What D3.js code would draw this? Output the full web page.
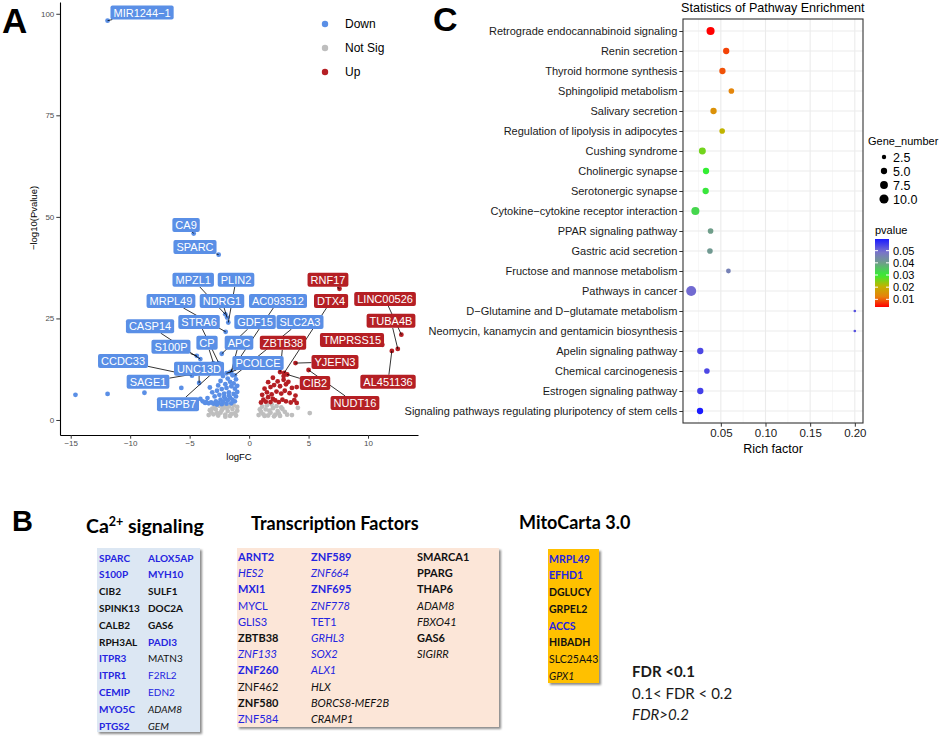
<!DOCTYPE html>
<html lang="en">
<head>
<meta charset="UTF-8">
<title>Volcano, pathway enrichment and gene tables</title>
<script src="https://cdn.jsdelivr.net/npm/d3@7/dist/d3.min.js"></script>
<style>
  body { margin: 0; background: #fff; }
  svg text { font-family: "Liberation Sans", Arial, sans-serif; }
  svg .office text { font-family: Lato, "Open Sans", sans-serif; }
</style>
</head>
<body>
<div id="figura"></div>
<script>
// ---------------- A: volcano ----------------
const volcanoGroups = ['Down', 'Not Sig', 'Up']
const volcanoXTicks = [-15, -10, -5, 0, 5, 10]
const volcanoYTicks = [0, 25, 50, 75, 100]

// [logFC, -log10(p)]
const downPts = [[-14.6,6.2],[-11.9,6.4],[-8.8,6.7],[-5.7,7.9],[-4.1,5.2],[-3.9,4.6],[-3.7,4.2],[-3.6,4.4],[-3.5,5.4],[-3.4,4.1],[-3.3,8.0],[-3.2,4.3],[-3.1,6.8],[-3.0,4.0],[-2.9,5.8],[-2.8,4.6],[-2.7,7.2],[-2.7,3.8],[-2.6,4.2],[-2.6,8.5],[-2.5,6.2],[-2.4,5.0],[-2.4,9.6],[-2.3,7.6],[-2.3,3.9],[-2.2,4.5],[-2.2,10.8],[-2.1,6.5],[-2.1,5.7],[-2.0,5.2],[-2.0,8.8],[-1.9,7.9],[-1.9,4.0],[-1.8,4.8],[-1.8,10.2],[-1.7,6.8],[-1.7,6.0],[-1.6,5.5],[-1.6,9.4],[-1.5,8.3],[-1.5,4.1],[-1.4,5.0],[-1.4,11.0],[-1.3,6.4],[-1.3,9.0],[-1.2,4.6],[-1.2,7.7],[-1.1,5.8],[-1.1,10.0],[-1.0,6.9],[-1.0,8.4]]
const notSigPts = [[-3.4,1.2],[-3.3,2.4],[-3.2,2.0],[-3.1,2.8],[-3.0,1.4],[-2.9,3.2],[-2.8,2.6],[-2.7,1.7],[-2.6,1.1],[-2.5,3.5],[-2.4,1.8],[-2.3,2.4],[-2.2,2.9],[-2.1,3.8],[-2.0,1.3],[-2.0,0.8],[-1.9,3.0],[-1.8,2.2],[-1.7,3.3],[-1.6,1.0],[-1.5,1.5],[-1.4,2.7],[-1.3,3.6],[-1.2,1.6],[-1.1,1.1],[-1.0,2.3],[-1.0,3.2],[0.8,1.2],[0.9,2.6],[1.0,2.0],[1.1,3.3],[1.2,1.4],[1.3,1.0],[1.4,2.6],[1.5,3.6],[1.6,1.1],[1.7,2.3],[1.8,1.8],[1.9,3.8],[2.0,2.9],[2.1,0.9],[2.2,1.3],[2.3,3.4],[2.4,2.2],[2.5,1.6],[2.6,1.0],[2.7,3.1],[2.8,2.7],[3.0,2.0],[3.2,1.3],[3.6,1.2],[4.1,3.0],[5.1,1.7]]
const upPts = [[1.0,4.3],[1.1,6.2],[1.2,5.0],[1.3,7.7],[1.4,4.5],[1.5,6.8],[1.6,5.6],[1.6,9.3],[1.8,4.4],[1.8,8.1],[1.9,6.3],[2.0,5.2],[2.0,10.4],[2.1,8.6],[2.2,4.8],[2.3,7.0],[2.4,9.5],[2.5,4.4],[2.6,8.3],[2.7,6.5],[2.8,5.0],[2.9,9.9],[2.9,10.8],[3.0,7.2],[3.1,4.6],[3.1,8.8],[3.3,9.4],[3.4,6.6],[3.5,4.3],[3.6,7.9],[3.8,4.9],[3.9,6.0],[4.0,4.2],[4.0,8.1]]

// labelled genes
const labelGenes = ['MIR1244−1','CA9','SPARC','MPZL1','PLIN2','MRPL49','NDRG1','AC093512','CASP14','STRA6','GDF15','SLC2A3','S100P','CP','APC','CCDC33','UNC13D','PCOLCE','SAGE1','HSPB7','ZBTB38','RNF17','DTX4','LINC00526','TUBA4B','TMPRSS15','YJEFN3','CIB2','AL451136','NUDT16']
const labelGroup = ['Down','Down','Down','Down','Down','Down','Down','Down','Down','Down','Down','Down','Down','Down','Down','Down','Down','Down','Down','Down','Up','Up','Up','Up','Up','Up','Up','Up','Up','Up']
const labelFC = [-11.9,-4.66,-2.56,-2.0,-1.75,-1.97,-1.85,-1.6,-4.1,-2.55,-2.3,-1.2,-4.4,-3.0,-1.5,-4.8,-4.2,-1.9,-4.5,-2.9,2.6,7.6,2.95,12.8,12.5,11.2,3.9,3.2,12.0,5.0]
const labelP = [98.3,45.9,40.7,26.0,24.0,21.7,25.2,11.7,15.0,14.0,16.3,11.0,15.8,14.0,11.9,10.9,9.1,11.5,11.4,12.0,11.8,32.3,11.6,21.0,17.5,18.5,14.0,11.2,17.0,12.3]
// where the repelled labels ended up (data units)
const labelAtFC = [-9.0,-5.3,-4.55,-4.7,-1.1,-6.57,-2.28,2.43,-8.33,-4.21,0.5,4.28,-6.57,-3.54,-0.85,-10.6,-4.21,0.75,-8.5,-5.98,2.85,6.63,6.89,11.43,11.93,8.65,7.22,5.54,11.68,8.9]
const labelAtP = [100.3,48.0,42.6,34.5,34.5,29.3,29.3,29.3,23.1,24.1,24.1,24.1,18.0,19.0,19.0,14.5,12.6,14.0,9.4,3.9,19.0,34.5,29.3,29.8,24.4,19.7,14.3,9.1,9.4,4.2]

// ---------------- C: pathway enrichment ----------------
const pathways = ['Retrograde endocannabinoid signaling','Renin secretion','Thyroid hormone synthesis','Sphingolipid metabolism','Salivary secretion','Regulation of lipolysis in adipocytes','Cushing syndrome','Cholinergic synapse','Serotonergic synapse','Cytokine−cytokine receptor interaction','PPAR signaling pathway','Gastric acid secretion','Fructose and mannose metabolism','Pathways in cancer','D−Glutamine and D−glutamate metabolism','Neomycin, kanamycin and gentamicin biosynthesis','Apelin signaling pathway','Chemical carcinogenesis','Estrogen signaling pathway','Signaling pathways regulating pluripotency of stem cells']
const richFactor = [0.0385,0.056,0.0518,0.0618,0.0418,0.0515,0.0293,0.0334,0.033,0.0215,0.0385,0.0378,0.0585,0.0168,0.2,0.2,0.027,0.0344,0.027,0.0267]
const geneNumber = [8,5,5,4,5,4,6,5,5,8,4,4,3,12,1,1,5,4,5,5]
const pvalue = [0.0037,0.008,0.009,0.013,0.015,0.021,0.026,0.030,0.031,0.033,0.040,0.041,0.046,0.050,0.053,0.053,0.054,0.054,0.055,0.0596]
const richTicks = [0.05, 0.10, 0.15, 0.20]
const richMinor = [0.025, 0.075, 0.125, 0.175]
const geneBreaks = [2.5, 5.0, 7.5, 10.0]
const pvalBreaks = [0.01, 0.02, 0.03, 0.04, 0.05]

// ---------------- B: gene tables  [gene, direction, FDR class 1/2/3] ----------------
const caGenes = [['SPARC','down',1],['S100P','down',1],['CIB2','up',1],['SPINK13','up',1],['CALB2','up',1],['RPH3AL','up',1],['ITPR3','down',1],['ITPR1','down',1],['CEMIP','down',1],['MYO5C','down',1],['PTGS2','down',1],
  ['ALOX5AP','down',1],['MYH10','down',1],['SULF1','up',1],['DOC2A','up',1],['GAS6','up',1],['PADI3','down',1],['MATN3','up',2],['F2RL2','down',2],['EDN2','down',2],['ADAM8','up',3],['GEM','up',3]]
const tfGenes = [['ARNT2','down',1],['HES2','down',3],['MXI1','down',1],['MYCL','down',2],['GLIS3','down',2],['ZBTB38','up',1],['ZNF133','down',3],['ZNF260','down',1],['ZNF462','up',2],['ZNF580','up',1],['ZNF584','down',2],
  ['ZNF589','down',1],['ZNF664','down',3],['ZNF695','down',1],['ZNF778','down',3],['TET1','down',2],['GRHL3','down',3],['SOX2','down',3],['ALX1','down',3],['HLX','up',3],['BORCS8-MEF2B','up',3],['CRAMP1','up',3],
  ['SMARCA1','up',1],['PPARG','up',1],['THAP6','up',1],['ADAM8','up',3],['FBXO41','up',3],['GAS6','up',1],['SIGIRR','up',3]]
const mitoGenes = [['MRPL49','down',1],['EFHD1','down',1],['DGLUCY','up',1],['GRPEL2','up',1],['ACCS','down',1],['HIBADH','up',1],['SLC25A43','up',2],['GPX1','up',3]]
const fdrLegend = [['FDR <0.1',1],['0.1< FDR < 0.2',2],['FDR>0.2',3]]

// =====================================================================
const svg = d3.select('#figura').append('svg').attr('width', 941).attr('height', 739)
svg.append('defs').append('filter').attr('id', 'sombra')
  .attr('x', '-10%').attr('y', '-10%').attr('width', '130%').attr('height', '130%')
  .append('feDropShadow').attr('dx', 2).attr('dy', 2).attr('stdDeviation', 1.3)
  .attr('flood-color', '#000').attr('flood-opacity', 0.45)

// panel letters
svg.append('text').text('A').attr('x', 2).attr('y', 33).attr('font-size', 35).attr('font-weight', 'bold')
svg.append('text').text('C').attr('x', 433).attr('y', 31).attr('font-size', 34).attr('font-weight', 'bold')
svg.append('text').text('B').attr('x', 12).attr('y', 531).attr('font-size', 29).attr('font-weight', 'bold')

function styleAxis(ax, size, col) {
  ax.attr('font-family', '"Liberation Sans", Arial, sans-serif')
  ax.select('.domain').attr('stroke', '#000').attr('stroke-width', 1.1)
  ax.selectAll('.tick line').attr('stroke', '#333')
  ax.selectAll('.tick text').attr('fill', col).attr('font-size', size)
}

// ---- A ----
const xV = d3.scaleLinear().domain([-15.9, 14.2]).range([60, 418])
const yV = d3.scaleLinear().domain([-3.7, 102.9]).range([435, 2])
const colV = d3.scaleOrdinal().domain(volcanoGroups).range(['#5a8fe6', '#bebebe', '#b51f24'])
const gA = svg.append('g')

const xAxA = gA.append('g').attr('transform', 'translate(0,435)')
  .call(d3.axisBottom(xV).tickValues(volcanoXTicks).tickSize(3.7).tickSizeOuter(0).tickPadding(2))
const yAxA = gA.append('g').attr('transform', 'translate(60,0)')
  .call(d3.axisLeft(yV).tickValues(volcanoYTicks).tickSize(3.7).tickSizeOuter(0).tickPadding(2))
styleAxis(xAxA, 8, '#4d4d4d')
styleAxis(yAxA, 8, '#4d4d4d')

gA.append('text').text('logFC').attr('x', 239).attr('y', 460).attr('text-anchor', 'middle').attr('font-size', 9.5)
gA.append('text').text('−log10(Pvalue)').attr('transform', 'translate(37,218) rotate(-90)')
  .attr('text-anchor', 'middle').attr('font-size', 9.5)

const pts = [
  ...notSigPts.map(d => ({ fc: d[0], p: d[1], g: 'Not Sig' })),
  ...downPts.map(d => ({ fc: d[0], p: d[1], g: 'Down' })),
  ...upPts.map(d => ({ fc: d[0], p: d[1], g: 'Up' })),
  ...labelGenes.map((n, i) => ({ fc: labelFC[i], p: labelP[i], g: labelGroup[i] }))
]
gA.append('g').selectAll('circle').data(pts).join('circle')
  .attr('cx', d => xV(d.fc)).attr('cy', d => yV(d.p)).attr('r', 2.4)
  .attr('fill', d => colV(d.g))

// repel-style labels: segment from box edge to point
const segG = gA.append('g'), labG = gA.append('g')
labelGenes.forEach((name, i) => {
  const px = xV(labelFC[i]), py = yV(labelP[i])
  const cx = xV(labelAtFC[i]), cy = yV(labelAtP[i])
  const lg = labG.append('g')
  const box = lg.append('rect').attr('fill', colV(labelGroup[i])).attr('rx', 2)
  const t = lg.append('text').text(name).attr('x', cx).attr('y', cy).attr('dy', '0.36em')
    .attr('text-anchor', 'middle').attr('font-size', 11).attr('fill', '#fff')
  const hw = t.node().getComputedTextLength() / 2 + 3, hh = 7
  box.attr('x', cx - hw).attr('y', cy - hh).attr('width', 2 * hw).attr('height', 2 * hh)
  const dx = px - cx, dy = py - cy
  const s = Math.min(dx ? hw / Math.abs(dx) : Infinity, dy ? hh / Math.abs(dy) : Infinity)
  const ex = cx + dx * s, ey = cy + dy * s
  if (s < 1 && Math.hypot(px - ex, py - ey) > 2) {
    segG.append('line').attr('x1', ex).attr('y1', ey).attr('x2', px).attr('y2', py)
      .attr('stroke', '#000').attr('stroke-width', 0.8)
  }
})

// legend
const legA = gA.append('g')
volcanoGroups.forEach((k, i) => {
  legA.append('circle').attr('cx', 325).attr('cy', 24 + 24 * i).attr('r', 3.2).attr('fill', colV(k))
  legA.append('text').text(k).attr('x', 345).attr('y', 24 + 24 * i).attr('dy', '0.36em').attr('font-size', 12)
})

// ---- C ----
const gC = svg.append('g')
const rfExt = d3.extent(richFactor), rfPad = (rfExt[1] - rfExt[0]) * 0.05
const xC = d3.scaleLinear().domain([rfExt[0] - rfPad, rfExt[1] + rfPad]).range([683, 863])
const yC = d3.scalePoint().domain(pathways).range([19, 423]).padding(0.6)
const rC = d3.scalePow().exponent(0.5).domain([1, 12]).range([1.3, 5.0])
const colP = d3.scaleLinear()
  .domain([0.0037, 0.012, 0.021, 0.03, 0.04, 0.049, 0.0596])
  .range(['#ff0000', '#e8800c', '#c0b400', '#33ee33', '#6f9e8a', '#7a72cc', '#1a1aff'])

gC.append('rect').attr('x', 683).attr('y', 19).attr('width', 180).attr('height', 404).attr('fill', '#fff')
gC.append('g').selectAll('line').data(richMinor).join('line')
  .attr('x1', d => xC(d)).attr('x2', d => xC(d)).attr('y1', 19).attr('y2', 423)
  .attr('stroke', '#f2f2f2').attr('stroke-width', 0.6)
gC.append('g').selectAll('line').data(richTicks).join('line')
  .attr('x1', d => xC(d)).attr('x2', d => xC(d)).attr('y1', 19).attr('y2', 423)
  .attr('stroke', '#ebebeb').attr('stroke-width', 1.1)
gC.append('g').selectAll('line').data(pathways).join('line')
  .attr('x1', 683).attr('x2', 863).attr('y1', d => yC(d)).attr('y2', d => yC(d))
  .attr('stroke', '#ebebeb').attr('stroke-width', 1.1)

const rows = pathways.map((p, i) => ({ p, rf: richFactor[i], n: geneNumber[i], pv: pvalue[i] }))
gC.append('g').selectAll('circle').data(rows).join('circle')
  .attr('cx', d => xC(d.rf)).attr('cy', d => yC(d.p)).attr('r', d => rC(d.n))
  .attr('fill', d => colP(d.pv))

gC.append('rect').attr('x', 683).attr('y', 19).attr('width', 180).attr('height', 404)
  .attr('fill', 'none').attr('stroke', '#333').attr('stroke-width', 1.1)

const yAxC = gC.append('g').attr('transform', 'translate(683,0)')
  .call(d3.axisLeft(yC).tickSize(3.7).tickSizeOuter(0).tickPadding(2))
const xAxC = gC.append('g').attr('transform', 'translate(0,423)')
  .call(d3.axisBottom(xC).tickValues(richTicks).tickFormat(d3.format('.2f')).tickSize(3.7).tickSizeOuter(0).tickPadding(2))
styleAxis(yAxC, 11, '#1a1a1a')
styleAxis(xAxC, 11.5, '#1a1a1a')
yAxC.select('.domain').remove()
xAxC.select('.domain').remove()

gC.append('text').text('Statistics of Pathway Enrichment').attr('x', 681).attr('y', 12).attr('font-size', 12.6)
gC.append('text').text('Rich factor').attr('x', 773).attr('y', 453).attr('text-anchor', 'middle').attr('font-size', 12.5)

// size legend
gC.append('text').text('Gene_number').attr('x', 868).attr('y', 145).attr('font-size', 11)
const yG = d3.scalePoint().domain(geneBreaks).range([157, 199])
geneBreaks.forEach(b => {
  gC.append('circle').attr('cx', 884).attr('cy', yG(b)).attr('r', rC(b)).attr('fill', '#000')
  gC.append('text').text(d3.format('.1f')(b)).attr('x', 893).attr('y', yG(b)).attr('dy', '0.36em').attr('font-size', 12.5)
})

// colour bar
gC.append('text').text('pvalue').attr('x', 875).attr('y', 234).attr('font-size', 11)
const yP = d3.scaleLinear().domain(d3.extent(pvalue)).range([307, 239])
const grad = svg.select('defs').append('linearGradient').attr('id', 'pgrad')
  .attr('x1', 0).attr('y1', 1).attr('x2', 0).attr('y2', 0)
d3.range(0, 1.0001, 0.05).forEach(f => {
  const v = yP.domain()[0] + f * (yP.domain()[1] - yP.domain()[0])
  grad.append('stop').attr('offset', f).attr('stop-color', colP(v))
})
gC.append('rect').attr('x', 875).attr('y', 239).attr('width', 14).attr('height', 68).attr('fill', 'url(#pgrad)')
pvalBreaks.forEach(b => {
  gC.append('line').attr('x1', 875).attr('x2', 878).attr('y1', yP(b)).attr('y2', yP(b)).attr('stroke', '#fff')
  gC.append('line').attr('x1', 886).attr('x2', 889).attr('y1', yP(b)).attr('y2', yP(b)).attr('stroke', '#fff')
  gC.append('text').text(d3.format('.2f')(b)).attr('x', 893).attr('y', yP(b)).attr('dy', '0.36em').attr('font-size', 11)
})

// ---- B ----
const dirColor = d => d === 'down' ? '#2424e0' : '#111'
const gB = svg.append('g').attr('class', 'office')

const caT = gB.append('text').attr('x', 86).attr('y', 533).attr('font-size', 19.5).attr('font-weight', 'bold')
caT.append('tspan').text('Ca')
caT.append('tspan').text('2+').attr('font-size', 12.5).attr('dy', -7.5)
caT.append('tspan').text(' signaling').attr('dy', 7.5)
gB.append('text').text('Transcription Factors').attr('x', 251).attr('y', 530).attr('font-size', 18).attr('font-weight', 'bold')
gB.append('text').text('MitoCarta 3.0').attr('x', 519).attr('y', 529).attr('font-size', 18).attr('font-weight', 'bold')

function drawTable(genes, o) {
  const g = gB.append('g')
  g.append('rect').attr('x', o.box[0]).attr('y', o.box[1]).attr('width', o.box[2]).attr('height', o.box[3])
    .attr('fill', o.fill).attr('filter', 'url(#sombra)')
  const row = d3.scalePoint().domain(d3.range(o.rows)).range(o.rowRange)
  g.selectAll('text').data(genes).join('text')
    .attr('x', (d, i) => o.cols[Math.floor(i / o.rows)])
    .attr('y', (d, i) => row(i % o.rows))
    .attr('dy', '0.36em')
    .attr('font-size', o.size)
    .attr('fill', d => dirColor(d[1]))
    .attr('font-weight', d => d[2] === 1 ? 'bold' : 'normal')
    .attr('font-style', d => d[2] === 3 ? 'italic' : 'normal')
    .text(d => d[0])
}
drawTable(caGenes, { box: [97, 548, 103, 184], fill: '#dce7f3', rows: 11, rowRange: [558, 726], cols: [99, 148], size: 10 })
drawTable(tfGenes, { box: [237, 548, 262, 179], fill: '#fce6d8', rows: 11, rowRange: [557, 719], cols: [238, 311, 417], size: 11 })
drawTable(mitoGenes, { box: [548, 549, 51, 134], fill: '#ffc000', rows: 8, rowRange: [559, 676], cols: [549], size: 10.5 })

const yL = d3.scalePoint().domain(fdrLegend.map(d => d[0])).range([672, 715])
gB.append('g').selectAll('text').data(fdrLegend).join('text')
  .attr('x', 632).attr('y', d => yL(d[0])).attr('dy', '0.36em').attr('font-size', 15).attr('fill', '#1a1a1a')
  .attr('font-weight', d => d[1] === 1 ? 'bold' : 'normal')
  .attr('font-style', d => d[1] === 3 ? 'italic' : 'normal')
  .text(d => d[0])
</script>
</body>
</html>
